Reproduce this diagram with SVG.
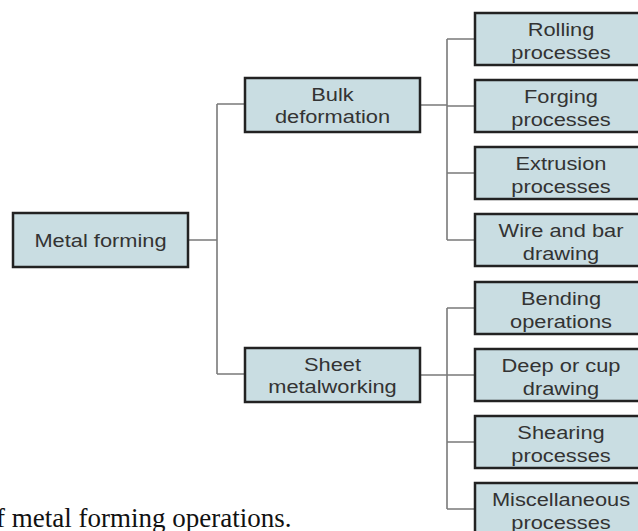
<svg xmlns="http://www.w3.org/2000/svg" width="638" height="531" viewBox="0 0 638 531">
<style>
  .box { fill: #c9dde2; stroke: #222; stroke-width: 2.5; }
  .lbl { font-family: "Liberation Sans", Arial, sans-serif; font-size: 18.5px; fill: #333; text-anchor: middle; }
  .conn { fill: none; stroke: #7a7a7a; stroke-width: 1.6; }
  .cap { font-family: "Liberation Serif", "Times New Roman", serif; font-size: 27px; fill: #111; }
</style>
<rect width="638" height="531" fill="#fff"/>
<g id="connectors">
  <path class="conn" d="M188,240 H217 M217,104 V374 M217,104 H245 M217,374 H245"/>
  <path class="conn" d="M420,105 H447 M447,39 V240 M447,39 H475 M447,106 H475 M447,173 H475 M447,240 H475"/>
  <path class="conn" d="M420,375 H447 M447,308 V509 M447,308 H475 M447,375 H475 M447,442 H475 M447,509 H475"/>
</g>
<g id="metal-forming">
  <rect class="box" x="13" y="213" width="175" height="54"/>
  <text class="lbl" transform="translate(100.5,246.5) scale(1.18,1)">Metal forming</text>
</g>
<g id="bulk-deformation">
  <rect class="box" x="245" y="78" width="175" height="54"/>
  <text class="lbl" transform="translate(332.5,101) scale(1.18,1)">Bulk</text>
  <text class="lbl" transform="translate(332.5,123) scale(1.18,1)">deformation</text>
</g>
<g id="sheet-metalworking">
  <rect class="box" x="245" y="348" width="175" height="54"/>
  <text class="lbl" transform="translate(332.5,371) scale(1.18,1)">Sheet</text>
  <text class="lbl" transform="translate(332.5,393) scale(1.18,1)">metalworking</text>
</g>
<g id="rolling">
  <rect class="box" x="475" y="13" width="175" height="52"/>
  <text class="lbl" transform="translate(561,35.5) scale(1.18,1)">Rolling</text>
  <text class="lbl" transform="translate(561,58.5) scale(1.18,1)">processes</text>
</g>
<g id="forging">
  <rect class="box" x="475" y="80" width="175" height="52"/>
  <text class="lbl" transform="translate(561,102.5) scale(1.18,1)">Forging</text>
  <text class="lbl" transform="translate(561,125.5) scale(1.18,1)">processes</text>
</g>
<g id="extrusion">
  <rect class="box" x="475" y="147" width="175" height="52"/>
  <text class="lbl" transform="translate(561,169.5) scale(1.18,1)">Extrusion</text>
  <text class="lbl" transform="translate(561,192.5) scale(1.18,1)">processes</text>
</g>
<g id="wire-bar">
  <rect class="box" x="475" y="214" width="175" height="52"/>
  <text class="lbl" transform="translate(561,236.5) scale(1.18,1)">Wire and bar</text>
  <text class="lbl" transform="translate(561,259.5) scale(1.18,1)">drawing</text>
</g>
<g id="bending">
  <rect class="box" x="475" y="282" width="175" height="52"/>
  <text class="lbl" transform="translate(561,304.5) scale(1.18,1)">Bending</text>
  <text class="lbl" transform="translate(561,327.5) scale(1.18,1)">operations</text>
</g>
<g id="deep-cup">
  <rect class="box" x="475" y="349" width="175" height="52"/>
  <text class="lbl" transform="translate(561,371.5) scale(1.18,1)">Deep or cup</text>
  <text class="lbl" transform="translate(561,394.5) scale(1.18,1)">drawing</text>
</g>
<g id="shearing">
  <rect class="box" x="475" y="416" width="175" height="52"/>
  <text class="lbl" transform="translate(561,438.5) scale(1.18,1)">Shearing</text>
  <text class="lbl" transform="translate(561,461.5) scale(1.18,1)">processes</text>
</g>
<g id="miscellaneous">
  <rect class="box" x="475" y="483" width="175" height="60"/>
  <text class="lbl" transform="translate(561,505.5) scale(1.18,1)">Miscellaneous</text>
  <text class="lbl" transform="translate(561,528.5) scale(1.18,1)">processes</text>
</g>
<text class="cap" x="-4" y="527">f metal forming operations.</text>
</svg>
